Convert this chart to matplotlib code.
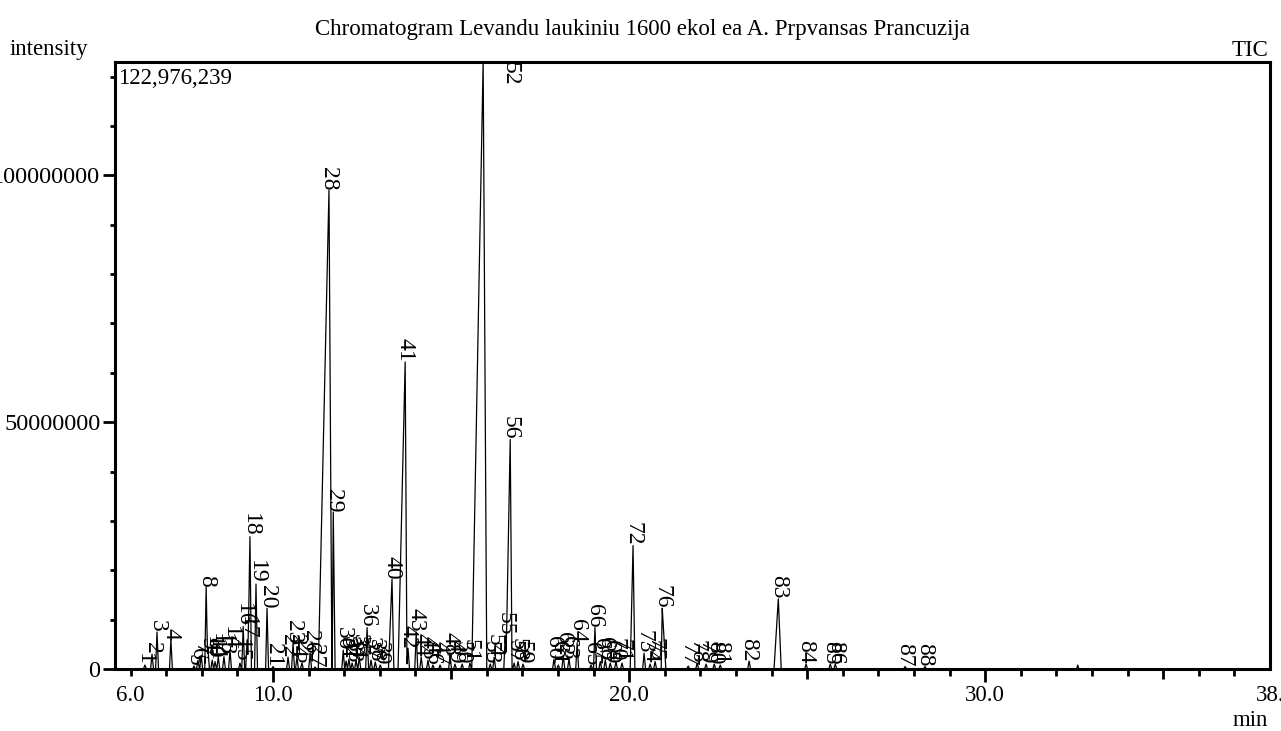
import numpy as np
import matplotlib.pyplot as plt
from matplotlib.ticker import FixedLocator, FixedFormatter, MultipleLocator

plt.rcParams['font.family'] = ['Liberation Serif', 'DejaVu Serif']

title = "Chromatogram Levandu laukiniu 1600 ekol ea A. Prpvansas Prancuzija"
y_max = 122976239

# peak table: number, retention time (min), height (millions)
peak_no = list(range(1, 89))
peak_rt = [6.40, 6.60, 6.74, 7.13, 7.78, 7.89, 7.98, 8.12, 8.17, 8.29,
           8.37, 8.46, 8.62, 8.79, 9.07, 9.16, 9.27, 9.35, 9.52, 9.83,
           10.00, 10.42, 10.56, 10.67, 10.81, 11.04, 11.18, 11.57, 11.69, 11.97,
           12.05, 12.13, 12.22, 12.33, 12.42, 12.64, 12.75, 12.87, 13.01, 13.34,
           13.71, 13.79, 14.02, 14.16, 14.35, 14.49, 14.69, 14.97, 15.11, 15.31,
           15.53, 15.90, 16.10, 16.21, 16.52, 16.66, 16.77, 16.88, 17.02, 17.89,
           18.01, 18.15, 18.31, 18.54, 18.93, 19.04, 19.19, 19.33, 19.47, 19.63,
           19.80, 20.11, 20.42, 20.59, 20.73, 20.93, 21.66, 21.91, 22.16, 22.39,
           22.56, 23.37, 24.19, 24.97, 25.65, 25.79, 27.75, 28.31]
peak_height = [0.8, 3.0, 7.5, 5.9, 0.6, 1.8, 2.8, 16.6, 4.2, 1.8,
               1.5, 2.5, 2.5, 3.8, 1.2, 8.6, 5.9, 26.8, 17.2, 12.3,
               0.5, 2.4, 5.2, 2.4, 1.2, 3.2, 0.4, 97.0, 31.8, 3.8,
               1.6, 2.0, 1.2, 1.8, 2.4, 8.4, 1.8, 1.4, 0.8, 18.2,
               62.2, 4.2, 7.5, 2.4, 1.8, 0.8, 0.8, 2.8, 1.0, 1.0,
               1.2, 122.976239, 1.0, 2.4, 6.8, 46.5, 1.2, 1.5, 1.0, 2.0,
               0.8, 2.8, 2.0, 5.3, 0.8, 8.4, 1.5, 1.8, 1.2, 1.5,
               1.2, 25.0, 3.2, 1.0, 1.5, 12.3, 0.6, 1.2, 1.0, 1.0,
               0.8, 1.6, 14.2, 1.0, 1.0, 1.0, 0.5, 0.5]

# peaks with a visibly wider shape: (front width, tail width) in min
peak_shape = {28: (0.30, 0.08), 29: (0.03, 0.05), 41: (0.20, 0.05),
              52: (0.32, 0.10), 56: (0.12, 0.05), 40: (0.10, 0.05),
              18: (0.06, 0.04), 72: (0.08, 0.05), 76: (0.03, 0.10),
              83: (0.12, 0.08)}

# unlabelled bumps on the baseline
extra_rt = [32.6]
extra_height = [0.8]

t = np.arange(5.5, 38.05, 0.002)
signal = np.zeros_like(t)
for no, rt, h in zip(peak_no, peak_rt, peak_height):
    wl, wr = peak_shape.get(no, (0.04, 0.04))
    signal += np.interp(t, [rt - wl, rt, rt + wr], [0, h * 1e6, 0], left=0, right=0)
for rt, h in zip(extra_rt, extra_height):
    signal += np.interp(t, [rt - 0.03, rt, rt + 0.03], [0, h * 1e6, 0], left=0, right=0)

fig = plt.figure(figsize=(12.81, 7.31), dpi=100)
ax = fig.add_axes([115 / 1281, 1 - 669 / 731, (1270 - 115) / 1281, (669 - 62) / 731])

ax.plot(t, signal, color='black', lw=0.9)
ax.set_xlim(5.56, 38.0)
ax.set_ylim(0, y_max)

for no, rt, h in zip(peak_no, peak_rt, peak_height):
    if h * 1e6 > 0.9 * y_max:
        ax.text(rt + 0.76, y_max, str(no), rotation=-90, ha='center', va='top', fontsize=17)
    else:
        ax.text(rt, h * 1e6, str(no), rotation=-90, ha='center', va='bottom', fontsize=17)

for s in ax.spines.values():
    s.set_linewidth(2.2)

# x ticks: every minute, longer at 5 and 10
xt = list(range(6, 39))
xlab = {6: '6.0', 10: '10.0', 20: '20.0', 30: '30.0', 38: '38.'}
ax.xaxis.set_major_locator(FixedLocator(xt))
ax.xaxis.set_major_formatter(FixedFormatter([xlab.get(v, '') for v in xt]))
ax.tick_params(axis='x', which='major', direction='out', length=9.5, width=2,
               labelsize=16.5, pad=2)
for v, tick in zip(xt, ax.xaxis.get_major_ticks()):
    if v % 10 == 0:
        tick.tick1line.set_markersize(9.5)
    elif v % 5 == 0:
        tick.tick1line.set_markersize(7.5)
    elif v == 38:
        tick.tick1line.set_markersize(0)
    else:
        tick.tick1line.set_markersize(5)

ax.yaxis.set_major_locator(FixedLocator([0, 50000000, 100000000]))
ax.yaxis.set_major_formatter(FixedFormatter(['0', '50000000', '100000000']))
ax.yaxis.set_minor_locator(MultipleLocator(10000000))
ax.tick_params(axis='y', which='major', direction='out', length=9, width=2,
               labelsize=17.5, pad=1.5)
ax.tick_params(axis='y', which='minor', direction='out', length=3.5, width=2)

fig.text(642 / 1281, 1 - 30 / 731, title, ha='center', va='center', fontsize=16.5)
fig.text(10 / 1281, 1 - 50 / 731, 'intensity', ha='left', va='center', fontsize=16.5)
fig.text(1268 / 1281, 1 - 50 / 731, 'TIC', ha='right', va='center', fontsize=16.5)
fig.text(1268 / 1281, 1 - 720 / 731, 'min', ha='right', va='center', fontsize=16.5)
fig.text(118 / 1281, 1 - 78 / 731, f'{y_max:,}', ha='left', va='center', fontsize=16.5)

fig.savefig('out.png', dpi=100)
